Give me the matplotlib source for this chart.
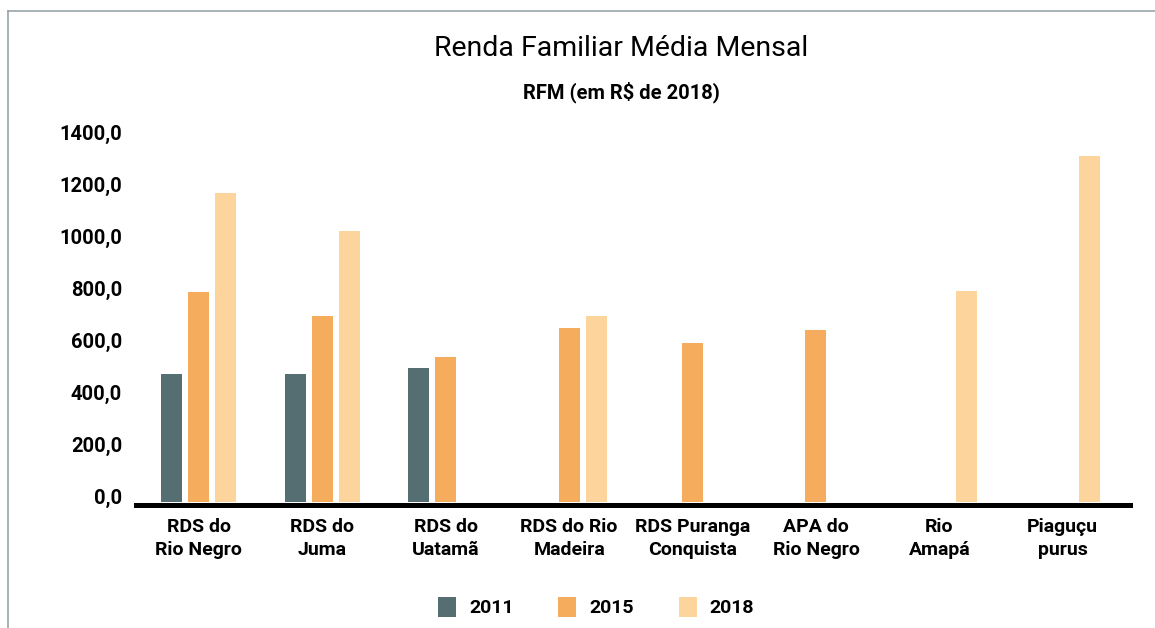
import numpy as np
import matplotlib.pyplot as plt
from matplotlib.lines import Line2D
import matplotlib.transforms as mtransforms

plt.rcParams['font.family'] = ['Roboto', 'DejaVu Sans']

# datos (R$ de 2018)
categorias = ['RDS do\nRio Negro', 'RDS do\nJuma', 'RDS do\nUatamã', 'RDS do Rio\nMadeira',
              'RDS Puranga\nConquista', 'APA do\nRio Negro', 'Rio\nAmapá', 'Piaguçu\npurus']
anos = ['2011', '2015', '2018']
rfm_2011 = [492, 492, 515, np.nan, np.nan, np.nan, np.nan, np.nan]
rfm_2015 = [808, 715, 558, 669, 612, 662, np.nan, np.nan]
rfm_2018 = [1190, 1042, np.nan, 715, np.nan, np.nan, 812, 1331]
ticks_y = [0, 200, 400, 600, 800, 1000, 1200, 1400]

cores = ['#546E71', '#F6AC5D', '#FDD49C']

fig = plt.figure(figsize=(11.55, 6.28), dpi=100)
ax = fig.add_axes([136 / 1155, 1 - 502 / 628, (1130 - 136) / 1155, (502 - 138) / 628])

x = np.arange(len(categorias))
largura = 0.17
passo = 0.219
for i, (serie, cor, ano) in enumerate(zip([rfm_2011, rfm_2015, rfm_2018], cores, anos)):
    ax.bar(x + (i - 1) * passo, serie, width=largura, color=cor, label=ano, zorder=2)

# eixo: primeiro as espinhas (set_position reinicia os ticks)
for lado in ['top', 'right', 'left']:
    ax.spines[lado].set_visible(False)
ax.spines['bottom'].set_linewidth(3.6)
ax.spines['bottom'].set_position(('outward', 1.8))
ax.spines['bottom'].set_color('black')

ax.tick_params(axis='both', length=0)
ax.tick_params(axis='y', pad=10)
ax.tick_params(axis='x', pad=10)

ax.set_xlim(-0.51, 7.545)
ax.set_ylim(0, 1400)
ax.set_yticks(ticks_y)
ax.set_yticklabels([f'{v:.1f}'.replace('.', ',') for v in ticks_y])
ax.set_xticks(x)
ax.set_xticklabels(categorias)
plt.setp(ax.get_yticklabels(), fontsize=14.5, fontweight='bold')
plt.setp(ax.get_xticklabels(), fontsize=14, fontweight='bold', linespacing=1.3)

# etiquetas do eixo y um pouco acima da linha
desloc = mtransforms.ScaledTranslation(0, 6 / 100, fig.dpi_scale_trans)
for lab in ax.get_yticklabels():
    lab.set_transform(lab.get_transform() + desloc)

fig.text(621 / 1155, 1 - 48 / 628, 'Renda Familiar Média Mensal', ha='center', va='center',
         fontsize=20.5, fontweight='normal')
fig.text(621 / 1155, 1 - 92 / 628, 'RFM (em R$ de 2018)', ha='center', va='center',
         fontsize=14.5, fontweight='bold')

fig.legend(loc='center', bbox_to_anchor=(596 / 1155, 1 - 607 / 628), ncol=3, frameon=False,
           prop={'size': 14, 'weight': 'bold'}, handlelength=0.93, handleheight=1.24,
           handletextpad=0.67, columnspacing=2.3)

# moldura cinza
fig.add_artist(Line2D([8 / 1155, 1], [1 - 11 / 628, 1 - 11 / 628], color='#9AA5AA', lw=1.2))
fig.add_artist(Line2D([8 / 1155, 8 / 1155], [0, 1 - 11 / 628], color='#9AA5AA', lw=1.2))

plt.savefig('out.png', dpi=100)
plt.close()
